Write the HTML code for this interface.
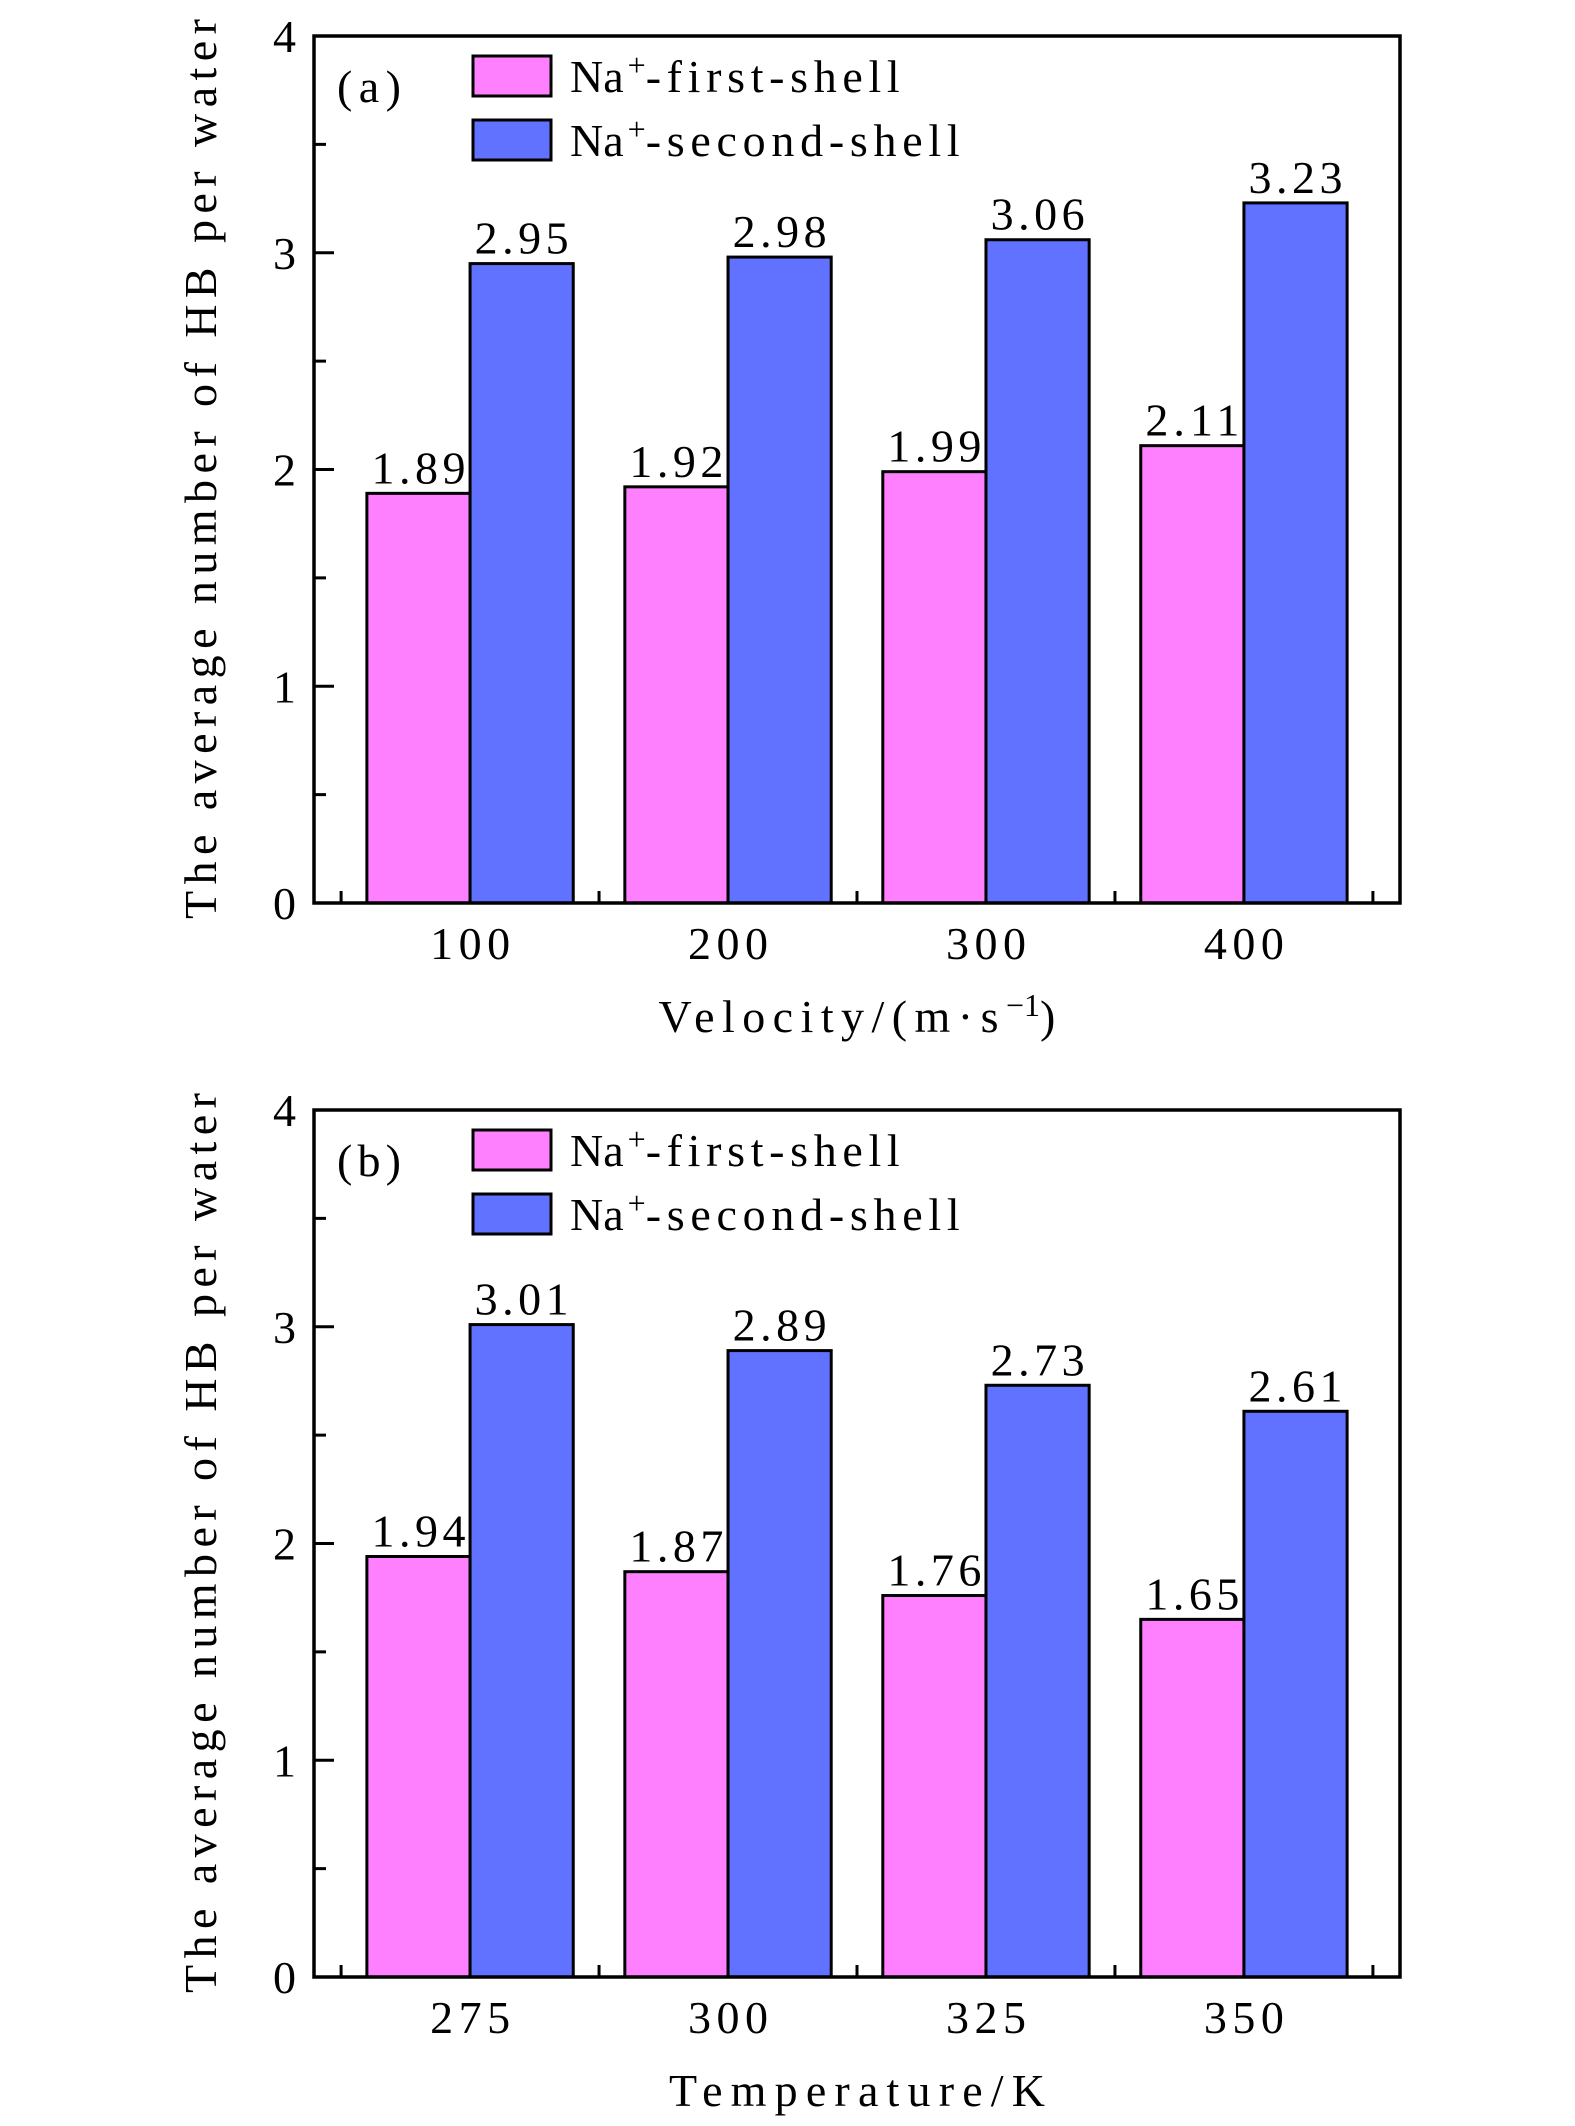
<!DOCTYPE html>
<html><head><meta charset="utf-8"><style>
html,body{margin:0;padding:0;background:#fff;}
svg{display:block;font-family:"Liberation Serif",serif;}
</style></head><body>
<svg id="fig" width="1575" height="2126" viewBox="0 0 1575 2126" xmlns="http://www.w3.org/2000/svg"></svg>
<script>
const categoriesA = ["100","200","300","400"];
const firstShellA = [1.89,1.92,1.99,2.11];
const secondShellA = [2.95,2.98,3.06,3.23];
const categoriesB = ["275","300","325","350"];
const firstShellB = [1.94,1.87,1.76,1.65];
const secondShellB = [3.01,2.89,2.73,2.61];
const yTicks = [0,1,2,3,4];
const seriesNames = ["Na+-first-shell","Na+-second-shell"];

const NS="http://www.w3.org/2000/svg";
const svg=document.getElementById('fig');
function mk(tag,attrs,parent){const e=document.createElementNS(NS,tag);for(const k in attrs)e.setAttribute(k,attrs[k]);(parent||svg).appendChild(e);return e;}

function panel(top,cats,s1,s2,tag,xtitle,xtw,key){
  const L=314,R=1400,T=top,B=top+867;
  const g=mk('g',{});
  
  
  const n=cats.length;
  const xs=i=>L+(R-L)*(i+0.605)/(n+0.21);
  const step=(R-L)/(n+0.21);
  const ys=v=>B-(B-T)*v/4;
  const bw=step*0.4;
  for(let v=0.5;v<4;v+=1){const t=mk('line',{x1:L,x2:L+12,y1:ys(v),y2:ys(v),stroke:'#000','stroke-width':3},g);
    }
  yTicks.forEach(v=>{
    const t=mk('line',{x1:L,x2:L+20,y1:ys(v),y2:ys(v),stroke:'#000','stroke-width':3},g);
    
    const l=mk('text',{x:296,y:ys(v)+16,'text-anchor':'end','font-size':46},g);l.textContent=v;
    
  });
  for(let i=-0.5;i<n;i+=1){const x=xs(i);
    const t=mk('line',{x1:x,x2:x,y1:B,y2:B-12,stroke:'#000','stroke-width':3},g);
    }
  cats.forEach((c,i)=>{
    const x=xs(i);
    const b1=mk('rect',{x:x-bw,y:ys(s1[i]),width:bw,height:B-ys(s1[i]),fill:'#ff80ff',stroke:'#000','stroke-width':3},g);
    
    const b2=mk('rect',{x:x,y:ys(s2[i]),width:bw,height:B-ys(s2[i]),fill:'#6072ff',stroke:'#000','stroke-width':3},g);
    
    const v1=mk('text',{x:x-bw/2,y:ys(s1[i])-10,'text-anchor':'middle','font-size':46,textLength:94,lengthAdjust:'spacing'},g);v1.textContent=s1[i].toFixed(2);
    
    const v2=mk('text',{x:x+bw/2,y:ys(s2[i])-10,'text-anchor':'middle','font-size':46,textLength:94,lengthAdjust:'spacing'},g);v2.textContent=s2[i].toFixed(2);
    
    const xl=mk('text',{x:x,y:B+56,'text-anchor':'middle','font-size':46,textLength:80,lengthAdjust:'spacing'},g);xl.textContent=c;
    
  });
  const fr=mk('rect',{x:L,y:T,width:R-L,height:B-T,fill:'none',stroke:'#000','stroke-width':3.5},g);
  
  const pl=mk('text',{x:337,y:T+66,'font-size':46,textLength:64,lengthAdjust:'spacing'},g);pl.textContent=tag;
  
  [['#ff80ff',0,344],['#6072ff',1,404]].forEach(([col,k,w])=>{
    const by=T+20+k*64;
    const r=mk('rect',{x:473,y:by,width:78,height:40,fill:col,stroke:'#000','stroke-width':3},g);
    
    const t=mk('text',{x:570,y:by+36,'font-size':46},g);
    t.innerHTML='Na<tspan dy="-16" font-size="32" dx="4">+</tspan><tspan dy="16" textLength="'+(w-90)+'" lengthAdjust="spacing">'+(k?'-second-shell':'-first-shell')+'</tspan>';
    
  });
  const xt=mk('text',{x:857-xtw/2,y:B+129,'font-size':46},g);xt.innerHTML=xtitle;
  
  const yt=mk('text',{x:0,y:0,'text-anchor':'middle','font-size':46,textLength:900,lengthAdjust:'spacing',transform:'translate(216,'+(T+433)+') rotate(-90)'},g);
  yt.textContent='The average number of HB per water';
  
}
panel(36,categoriesA,firstShellA,secondShellA,'(a)','<tspan textLength="340" lengthAdjust="spacing">Velocity/(m·s</tspan><tspan dy="-16" font-size="32">−1</tspan><tspan dy="16">)</tspan>',397,'a');
panel(1110,categoriesB,firstShellB,secondShellB,'(b)','<tspan textLength="376" lengthAdjust="spacing">Temperature/K</tspan>',376,'b');
</script>
</body></html>
